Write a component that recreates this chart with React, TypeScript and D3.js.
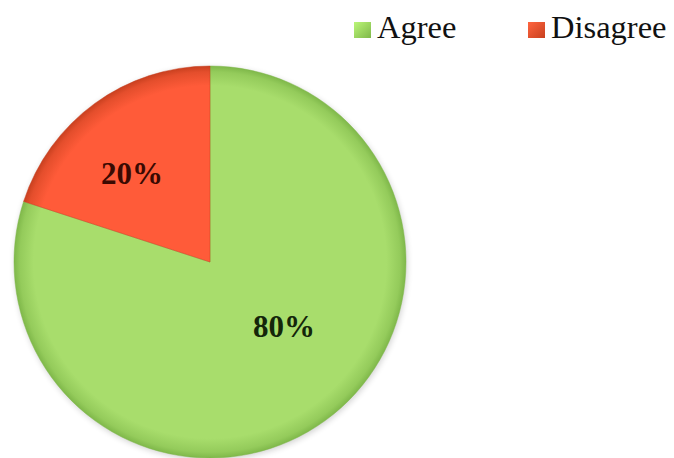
import React from "react";
import * as d3 from "d3";

const categories = ["Agree", "Disagree"];
const values = [80, 20];
const labels = ["80%", "20%"];
const colors = ["#a8dd6c", "#ff5b39"];
const edgeColors = ["#7fb84a", "#c8401f"];

const W = 674;
const H = 458;
const cx = 210;
const cy = 262;
const R = 196;

export default function App() {
  const pie = d3
    .pie<number>()
    .sort(null)
    .startAngle(0)
    .endAngle(2 * Math.PI)
    .value((d) => d);
  const arcs = pie(values);
  const arc = d3.arc<d3.PieArcDatum<number>>().innerRadius(0).outerRadius(R);
  const labelPos = [
    [74, 75],
    [-78, -78],
  ];
  const serif = "'Liberation Serif', 'Times New Roman', serif";
  return (
    <svg
      width={W}
      height={H}
      style={{ position: "absolute", left: 0, top: 0, background: "#fff" }}
    >
      <defs>
        {categories.map((c, i) => (
          <radialGradient
            key={c}
            id={`g${i}`}
            gradientUnits="userSpaceOnUse"
            cx={0}
            cy={0}
            r={R}
          >
            <stop offset="0" stopColor={colors[i]} />
            <stop offset="0.9" stopColor={colors[i]} />
            <stop offset="0.97" stopColor={d3.interpolateRgb(colors[i], edgeColors[i])(0.5)} />
            <stop offset="1" stopColor={edgeColors[i]} />
          </radialGradient>
        ))}
        {categories.map((c, i) => (
          <linearGradient key={c + "l"} id={`sq${i}`} x1="0" y1="0" x2="1" y2="1">
            <stop offset="0" stopColor={d3.color(colors[i])!.brighter(0.3).toString()} />
            <stop offset="1" stopColor={edgeColors[i]} />
          </linearGradient>
        ))}
        <filter id="blur" x="-20%" y="-20%" width="140%" height="140%">
          <feGaussianBlur stdDeviation="3" />
        </filter>
      </defs>
      <g transform={`translate(${cx},${cy})`}>
        <circle cx={1} cy={2} r={R} fill="#000" opacity={0.18} filter="url(#blur)" />
        {arcs.map((a, i) => (
          <path
            key={categories[i]}
            d={arc(a) || ""}
            fill={`url(#g${i})`}
            stroke={edgeColors[i]}
            strokeWidth={0.8}
            strokeOpacity={0.6}
          />
        ))}
      </g>
      {arcs.map((a, i) => (
        <text
          key={labels[i]}
          x={cx + labelPos[i][0]}
          y={cy + labelPos[i][1]}
          textAnchor="middle"
          fontFamily={serif}
          fontWeight="bold"
          fontSize={31}
          fill={i === 0 ? "#14260a" : "#3a0a02"}
        >
          {labels[i]}
        </text>
      ))}
      <g fontFamily={serif} fontSize={32.5} fill="#111">
        {categories.map((c, i) => {
          const x = [354, 528][i];
          return (
            <g key={c + "leg"}>
              <rect x={x} y={22} width={17} height={16} fill={`url(#sq${i})`} />
              <text x={x + 23} y={38}>
                {c}
              </text>
            </g>
          );
        })}
      </g>
    </svg>
  );
}
